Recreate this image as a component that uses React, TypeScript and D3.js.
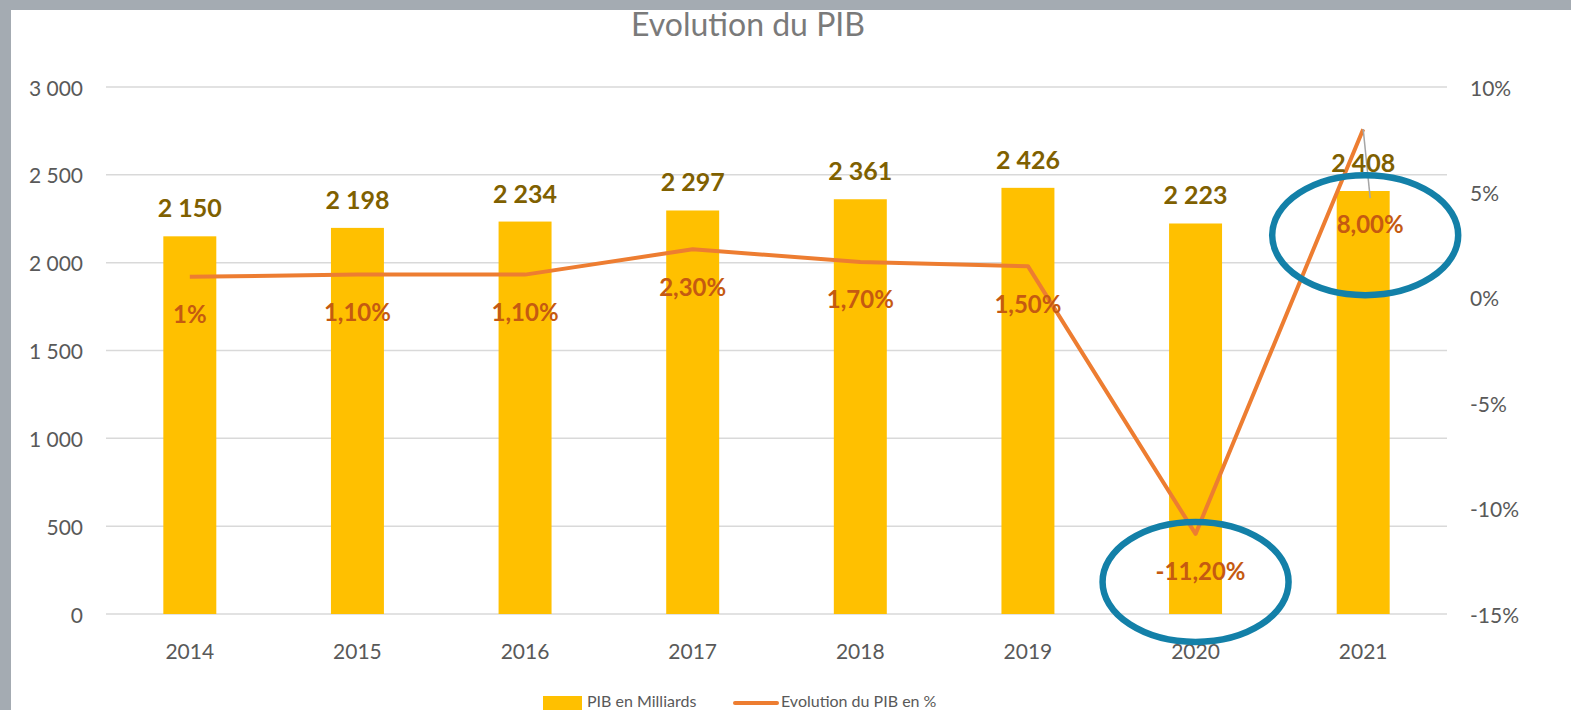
import React from 'react';
import * as d3 from 'd3';

const years = ['2014', '2015', '2016', '2017', '2018', '2019', '2020', '2021'];
const pib = [2150, 2198, 2234, 2297, 2361, 2426, 2223, 2408];
const evolution = [1, 1.1, 1.1, 2.3, 1.7, 1.5, -11.2, 8];
const evolutionLabels = ['1%', '1,10%', '1,10%', '2,30%', '1,70%', '1,50%', '-11,20%', '8,00%'];
const leftTicks = [0, 500, 1000, 1500, 2000, 2500, 3000];
const rightTicks = [-15, -10, -5, 0, 5, 10];
const circled = ['2020', '2021'];

const W = 1571;
const H = 710;
const FONT = 'Lato, "Open Sans", sans-serif';

const fmtThousands = (v: number) => d3.format(',')(v).replace(/,/g, ' ');

export default function App() {
  const x = d3.scaleBand().domain(years).range([106, 1447]).padding(0);
  const yL = d3.scaleLinear().domain([0, 3000]).range([614, 87]);
  const yR = d3.scaleLinear().domain([-15, 10]).range([614, 87]);
  const barW = x.bandwidth() * 0.316;
  const cx = (y: string) => (x(y) as number) + x.bandwidth() / 2;

  const line = d3
    .line<number>()
    .x((_, i) => cx(years[i]))
    .y(d => yR(d));

  // the last label was dragged down into the bar in the original, with a leader line
  const labelPos = (i: number) => {
    const px = cx(years[i]);
    const py = yR(evolution[i]);
    if (i === years.length - 1) return { lx: px + 7, ly: py + 94 };
    return { lx: px + (i === 6 ? 5 : 0), ly: py + 37 };
  };

  const last = years.length - 1;
  const lastPos = labelPos(last);

  return (
    <svg
      width={W}
      height={H}
      style={{ position: 'absolute', left: 0, top: 0, background: '#fff' }}
      fontFamily={FONT}
    >
      <rect x={0} y={0} width={W} height={H} fill="#fff" />

      {/* grid + left axis */}
      {leftTicks.map(t => (
        <g key={t}>
          <line x1={106} x2={1447} y1={yL(t)} y2={yL(t)} stroke="#d9d9d9" strokeWidth={1.5} />
          <text x={83} y={yL(t)} textAnchor="end" dominantBaseline="central" fontSize={21} fill="#595959">
            {fmtThousands(t)}
          </text>
        </g>
      ))}

      {/* right axis */}
      {rightTicks.map(t => (
        <text key={t} x={1470} y={yR(t)} textAnchor="start" dominantBaseline="central" fontSize={21} fill="#595959">
          {t + '%'}
        </text>
      ))}

      {/* bars */}
      {years.map((yr, i) => (
        <rect
          key={yr}
          x={cx(yr) - barW / 2}
          y={yL(pib[i])}
          width={barW}
          height={yL(0) - yL(pib[i])}
          fill="#ffc000"
        />
      ))}

      {/* x labels */}
      {years.map(yr => (
        <text key={yr} x={cx(yr)} y={650} textAnchor="middle" dominantBaseline="central" fontSize={21} fill="#595959">
          {yr}
        </text>
      ))}

      {/* evolution line */}
      <path d={line(evolution) || ''} fill="none" stroke="#ed7d31" strokeWidth={4} strokeLinejoin="round" />

      {/* leader line for the moved label */}
      <line
        x1={cx(years[last])}
        y1={yR(evolution[last])}
        x2={lastPos.lx}
        y2={lastPos.ly - 25}
        stroke="#a6a6a6"
        strokeWidth={1.5}
      />

      {/* bar labels */}
      {years.map((yr, i) => (
        <text
          key={yr}
          x={cx(yr)}
          y={yL(pib[i]) - 29}
          textAnchor="middle"
          dominantBaseline="central"
          fontSize={25}
          fontWeight={700}
          fill="#7f6000"
        >
          {fmtThousands(pib[i])}
        </text>
      ))}

      {/* line labels */}
      {years.map((yr, i) => {
        const p = labelPos(i);
        return (
          <text
            key={yr}
            x={p.lx}
            y={p.ly}
            textAnchor="middle"
            dominantBaseline="central"
            fontSize={24}
            fontWeight={700}
            fill="#c55a11"
          >
            {evolutionLabels[i]}
          </text>
        );
      })}

      {/* annotation ellipses */}
      {circled.map(yr => {
        const i = years.indexOf(yr);
        const p = labelPos(i);
        return (
          <ellipse
            key={yr}
            cx={p.lx - 5}
            cy={p.ly + (i === last ? 12 : 11)}
            rx={93}
            ry={60}
            fill="none"
            stroke="#1380a8"
            strokeWidth={6.5}
          />
        );
      })}

      {/* title */}
      <text x={748} y={23} textAnchor="middle" dominantBaseline="central" fontSize={32} fill="#7a7a7a">
        Evolution du PIB
      </text>

      {/* legend (sits at the very bottom edge) */}
      <rect x={543} y={696} width={39} height={20} fill="#ffc000" />
      <text x={587} y={707} fontSize={16} fill="#595959">PIB en Milliards</text>
      <line x1={735} x2={777} y1={703} y2={703} stroke="#ed7d31" strokeWidth={4} strokeLinecap="round" />
      <text x={781} y={707} fontSize={16} fill="#595959">Evolution du PIB en %</text>

      {/* gray frame */}
      <rect x={0} y={0} width={W} height={10} fill="#a4abb2" />
      <rect x={0} y={0} width={11} height={H} fill="#a4abb2" />
    </svg>
  );
}
